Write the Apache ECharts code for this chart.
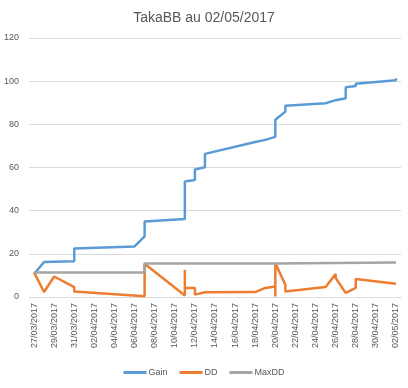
<!DOCTYPE html>
<html>
<head>
<meta charset="utf-8">
<script src="https://cdn.jsdelivr.net/npm/echarts@6/dist/echarts.min.js"></script>
<style>
html,body{margin:0;padding:0;background:#fff;}
#chart{width:408px;height:388px;}
</style>
</head>
<body>
<div id="chart"></div>
<script>
// Category dates (x axis)
const dates = ['27/03/2017','28/03/2017','29/03/2017','30/03/2017','31/03/2017',
  '01/04/2017','02/04/2017','03/04/2017','04/04/2017','05/04/2017','06/04/2017','07/04/2017',
  '08/04/2017','09/04/2017','10/04/2017','11/04/2017','12/04/2017','13/04/2017','14/04/2017',
  '15/04/2017','16/04/2017','17/04/2017','18/04/2017','19/04/2017','20/04/2017','21/04/2017',
  '22/04/2017','23/04/2017','24/04/2017','25/04/2017','26/04/2017','27/04/2017','28/04/2017',
  '29/04/2017','30/04/2017','01/05/2017','02/05/2017'];

// Gain series
const gainDates = ['27/03/2017','28/03/2017','31/03/2017','31/03/2017','06/04/2017','07/04/2017','07/04/2017',
  '11/04/2017','11/04/2017','12/04/2017','12/04/2017','13/04/2017','13/04/2017','18/04/2017','19/04/2017',
  '20/04/2017','20/04/2017','21/04/2017','21/04/2017','25/04/2017','26/04/2017','26/04/2017','27/04/2017',
  '27/04/2017','28/04/2017','28/04/2017','02/05/2017','02/05/2017'];
const gainValues = [10.6,16.2,16.6,22.5,23.4,28.1,35.0,36.1,53.5,54.2,59.1,60.1,66.3,71.8,72.8,
  74.2,82.1,85.9,88.6,89.8,91.2,92.0,92.1,97.2,97.8,98.8,100.4,101.4];

// DD series
const ddDates = ['27/03/2017','28/03/2017','29/03/2017','31/03/2017','31/03/2017','07/04/2017','07/04/2017',
  '11/04/2017','11/04/2017','11/04/2017','12/04/2017','12/04/2017','13/04/2017','18/04/2017','19/04/2017',
  '20/04/2017','20/04/2017','20/04/2017','21/04/2017','21/04/2017','25/04/2017','26/04/2017','26/04/2017',
  '27/04/2017','28/04/2017','28/04/2017','02/05/2017'];
const ddValues = [11.4,2.3,9.5,4.6,2.6,0.3,15.4,0.7,12.6,4.2,4.2,1.1,2.2,2.3,4.2,
  4.9,0.2,15.7,5.7,2.6,4.6,10.6,8.8,1.9,4.2,8.3,6.1];

// MaxDD series
const maxDDDates = ['27/03/2017','07/04/2017','07/04/2017','20/04/2017','20/04/2017','02/05/2017'];
const maxDDValues = [11.4,11.4,15.5,15.5,16.0,16.0];

// Y axis ticks
const yMin = 0, yMax = 120, yStep = 20;

function pairs(ds, vs){ return ds.map((d,i)=>[dates.indexOf(d), vs[i]]); }

const chart = echarts.init(document.getElementById('chart'), null, {renderer:'canvas'});
const font = 'Liberation Sans, Arial, sans-serif';
chart.setOption({
  animation:false,
  backgroundColor:'#fff',
  title:{text:'TakaBB au 02/05/2017', left:'center', top:6,
    textStyle:{fontSize:14, fontWeight:'normal', color:'#595959', fontFamily:font}},
  grid:{left:29, right:7, top:38, bottom:91},
  legend:{bottom:6, left:'center', icon:'rect', itemWidth:23, itemHeight:3, itemGap:12,
    textStyle:{fontSize:9, color:'#595959', fontFamily:font, padding:[0,0,0,-3]},
    data:['Gain','DD','MaxDD']},
  xAxis:[
    {type:'category', data:dates, boundaryGap:true,
     axisLine:{lineStyle:{color:'#d9d9d9'}},
     axisTick:{interval:1, length:4, lineStyle:{color:'#d9d9d9'}},
     axisLabel:{interval:1, rotate:90, fontSize:9, color:'#595959', margin:6, fontFamily:font},
     splitLine:{show:false}},
    {type:'value', min:-0.5, max:36.5, show:false}
  ],
  yAxis:{type:'value', min:yMin, max:yMax, interval:yStep,
    axisLine:{show:false}, axisTick:{show:false},
    axisLabel:{fontSize:9, color:'#595959', margin:10, fontFamily:font},
    splitLine:{lineStyle:{color:'#d9d9d9'}}},
  series:[
    {name:'Gain', type:'line', xAxisIndex:1, data:pairs(gainDates,gainValues), symbol:'none',
     lineStyle:{width:2.5, color:'#5B9BD5'}, itemStyle:{color:'#5B9BD5'}},
    {name:'DD', type:'line', xAxisIndex:1, data:pairs(ddDates,ddValues), symbol:'none',
     lineStyle:{width:2.5, color:'#ED7D31'}, itemStyle:{color:'#ED7D31'}},
    {name:'MaxDD', type:'line', xAxisIndex:1, data:pairs(maxDDDates,maxDDValues), symbol:'none',
     lineStyle:{width:2.5, color:'#A5A5A5'}, itemStyle:{color:'#A5A5A5'}}
  ]
});
</script>
</body>
</html>
